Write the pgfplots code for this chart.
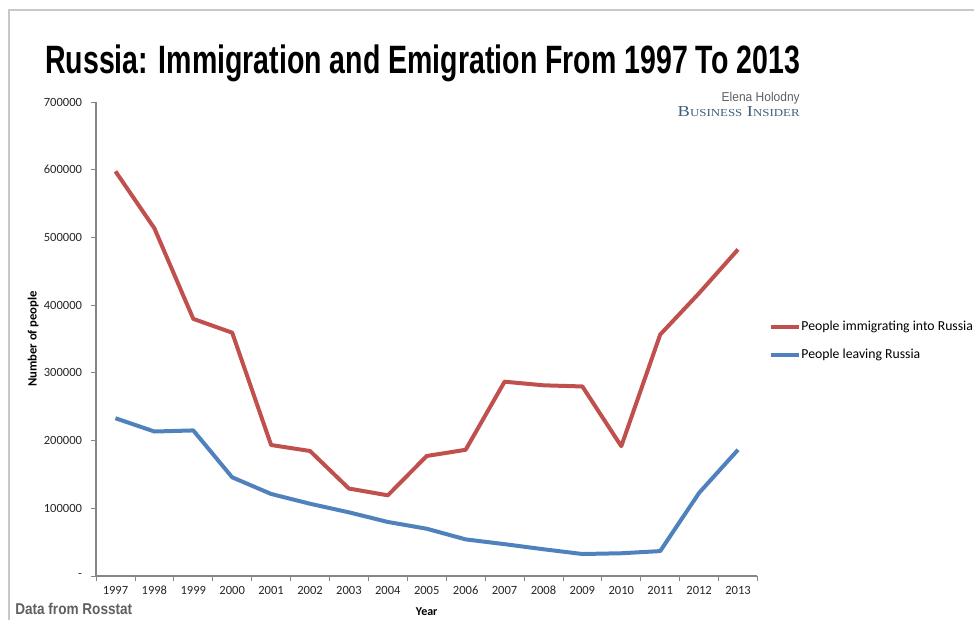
\documentclass[border=0pt]{standalone}
\usepackage{fontspec}
\setmainfont{Carlito}
\newfontfamily\sansfont{Liberation Sans}
\newfontfamily\seriffont{Liberation Serif}
\usepackage{graphicx}
\usepackage{pgfplots}
\pgfplotsset{compat=1.18}
\definecolor{redline}{RGB}{192,80,77}
\definecolor{blueline}{RGB}{79,129,189}
\definecolor{axisgray}{RGB}{134,134,134}
\definecolor{framegray}{RGB}{200,200,200}
\definecolor{textgray}{RGB}{95,95,95}
\definecolor{biblue}{RGB}{62,96,122}
\begin{document}
\begin{tikzpicture}[x=0.75pt,y=0.75pt]
\path[use as bounding box] (0,0) rectangle (974,620);
\draw[framegray, line width=1.5pt] (9,0) -- (9,610) -- (974,610);
\begin{axis}[
  at={(72pt,33pt)}, anchor=south west,
  scale only axis, width=496.1pt, height=355.5pt,
  xmin=-0.5, xmax=16.5, ymin=0, ymax=700000,
  axis x line=bottom, axis y line=left,
  axis line style={-, draw=axisgray, line width=0.8pt},
  xtick={0,...,16},
  xticklabels={1997,1998,1999,2000,2001,2002,2003,2004,2005,2006,2007,2008,2009,2010,2011,2012,2013},
  major x tick style={draw=none},
  minor xtick={-0.5,0.5,...,16.5},
  minor x tick style={draw=axisgray, line width=0.6pt},
  minor tick length=4pt,
  ytick={0,100000,...,700000},
  yticklabels={-\hspace{9pt},100000,200000,300000,400000,500000,600000,700000},
  scaled y ticks=false,
  major y tick style={draw=axisgray, line width=0.6pt},
  major tick length=4pt,
  tick align=outside,
  ticklabel style={font=\fontsize{9.4}{10}\selectfont, text=black!85},
  xticklabel style={anchor=north, yshift=0.5pt, text height=7pt, text depth=0pt},
  yticklabel style={xshift=-3pt},
  xlabel={\bfseries Year},
  xlabel style={at={(axis description cs:0.5,-0.076)}, anchor=center, font=\fontsize{9}{10}\selectfont},
  ylabel={\bfseries Number of people},
  ylabel style={at={(axis description cs:-0.095,0.5)}, anchor=center, font=\fontsize{9.5}{10}\selectfont},
  legend style={draw=none, fill=none, at={(axis description cs:1,0.5)}, xshift=8.3pt, yshift=-1.5pt, anchor=west,
    inner sep=0pt, row sep=11pt, font=\fontsize{10.3}{11}\selectfont, cells={anchor=west},
    nodes={inner sep=0.5pt}},
  legend image code/.code={\draw[#1, line width=3pt] (0pt,0pt) -- (21pt,0pt);},
  clip=false,
]
\addplot[redline, line width=3pt, line join=round] coordinates {
(0,597651) (1,513551) (2,379726) (3,359330) (4,193450) (5,184612) (6,129144) (7,119157)
(8,177230) (9,186380) (10,286956) (11,281614) (12,279907) (13,191656) (14,356535) (15,417681) (16,482241)};
\addlegendentry{People immigrating into Russia}
\addplot[blueline, line width=3pt, line join=round] coordinates {
(0,232987) (1,213377) (2,214963) (3,145720) (4,121166) (5,106685) (6,94018) (7,79795)
(8,69798) (9,54061) (10,47013) (11,39508) (12,32458) (13,33578) (14,36774) (15,122751) (16,186382)};
\addlegendentry{People leaving Russia}
\end{axis}
\node[anchor=base west, inner sep=0pt] at (45,546) {\resizebox{566pt}{21.5pt}{\sansfont\bfseries Russia: Immigration and Emigration From 1997 To 2013}};
\node[anchor=base east, inner sep=0pt, text=textgray] at (800,518) {\resizebox{58.5pt}{7pt}{\sansfont Elena Holodny}};
\node[anchor=base east, inner sep=0pt, text=biblue] at (800,503) {\resizebox{91.5pt}{7.5pt}{\seriffont B{\fontsize{7}{8}\selectfont USINESS} I{\fontsize{7}{8}\selectfont NSIDER}}};
\node[anchor=base west, inner sep=0pt, text=textgray] at (15,5) {\resizebox{87.75pt}{8.5pt}{\sansfont\bfseries Data from Rosstat}};
\end{tikzpicture}
\end{document}
